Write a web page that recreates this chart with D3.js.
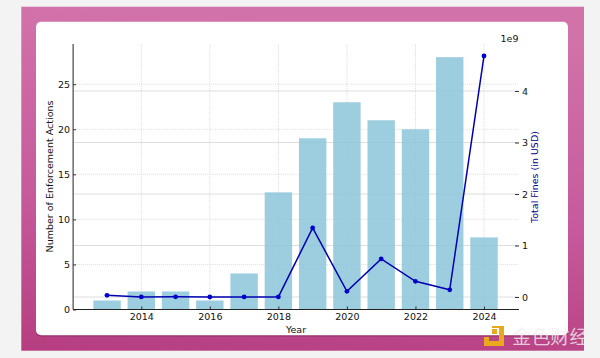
<!DOCTYPE html>
<html><head><meta charset="utf-8">
<script src="https://d3js.org/d3.v7.min.js"></script>
<style>html,body{margin:0;padding:0;background:#f3f3f3}svg{display:block}text{font-family:"DejaVu Sans",sans-serif}</style>
</head><body><svg id="c" width="600" height="358"></svg>
<script>
const years=[2013,2014,2015,2016,2017,2018,2019,2020,2021,2022,2023,2024];
const actions=[1,2,2,1,4,13,19,23,21,20,28,8];
const fines=[0.033e9,0.002e9,0.003e9,0e9,0.002e9,0.002e9,1.34e9,0.11e9,0.74e9,0.305e9,0.14e9,4.68e9];
const xTicks=[2014,2016,2018,2020,2022,2024];
const leftTicks=[0,5,10,15,20,25];
const rightTicks=[0,1e9,2e9,3e9,4e9];

const svg=d3.select("#c");
const defs=svg.append("defs");
const g=defs.append("linearGradient").attr("id","bg").attr("x1","0.1").attr("y1","0").attr("x2","0").attr("y2","1");
g.append("stop").attr("offset","0").attr("stop-color","#d272aa");
g.append("stop").attr("offset","0.55").attr("stop-color","#c65a9c");
g.append("stop").attr("offset","1").attr("stop-color","#b63e80");
svg.append("rect").attr("x",21.3).attr("y",6.7).attr("width",562.7).attr("height",344).attr("fill","url(#bg)");
svg.append("rect").attr("x",36).attr("y",22).attr("width",532).attr("height",314.5).attr("rx",5).attr("fill","#7e2a5a").attr("opacity",.65);
svg.append("rect").attr("x",36).attr("y",21.7).attr("width",532).attr("height",313.5).attr("rx",5).attr("fill","#fff");

const x=d3.scaleLinear().domain([2014,2024]).range([141.3,484]);
const yL=d3.scaleLinear().domain([0,25]).range([309.5,84.2]);
const yR=d3.scaleLinear().domain([0,4e9]).range([297,91]);
const plotL=x(2012.01),plotR=519,plotT=44,plotB=yL(0);
const bw=x(2014.8)-x(2014);

const grid=svg.append("g").attr("fill","none").attr("stroke","#d6d6d6").attr("stroke-width",.8);
xTicks.forEach(t=>grid.append("line").attr("x1",x(t)).attr("x2",x(t)).attr("y1",plotT).attr("y2",plotB).attr("stroke-dasharray","1.2 1"));
leftTicks.forEach(t=>grid.append("line").attr("x1",plotL).attr("x2",plotR).attr("y1",yL(t)).attr("y2",yL(t)).attr("stroke-dasharray","1 1"));
rightTicks.forEach(t=>grid.append("line").attr("x1",plotL).attr("x2",plotR).attr("y1",yR(t)).attr("y2",yR(t)));

svg.append("g").selectAll("rect").data(years).join("rect")
 .attr("x",d=>x(d)-bw/2).attr("width",bw)
 .attr("y",(d,i)=>yL(actions[i])).attr("height",(d,i)=>plotB-yL(actions[i]))
 .attr("fill","#8cc6d9").attr("fill-opacity",.85);

const line=d3.line().x((d,i)=>x(years[i])).y(d=>yR(d));
svg.append("path").attr("d",line(fines)).attr("fill","none").attr("stroke","#0000b0").attr("stroke-width",1.5);
svg.append("g").selectAll("circle").data(fines).join("circle")
 .attr("cx",(d,i)=>x(years[i])).attr("cy",d=>yR(d)).attr("r",2.4).attr("fill","#0000d0");

const ax=svg.append("g").attr("transform",`translate(0,${plotB})`).call(d3.axisBottom(x).tickValues(xTicks).tickFormat(d3.format("d")).tickSize(-3).tickPadding(3.5));
ax.select(".domain").attr("d",`M${plotL},0H${plotR}`).attr("stroke","#222");
const al=svg.append("g").attr("transform",`translate(${plotL},0)`).call(d3.axisLeft(yL).tickValues(leftTicks).tickSize(-3).tickPadding(3));
al.select(".domain").attr("d",`M0,${plotT}V${plotB}`).attr("stroke","#222");
const ar=svg.append("g").attr("transform",`translate(${plotR},0)`).call(d3.axisRight(yR).tickValues(rightTicks).tickFormat(d=>d/1e9).tickSize(-4).tickPadding(3));
ar.select(".domain").remove();
[ax,al,ar].forEach(a=>{a.selectAll("text").attr("font-size",9.5).attr("fill","#111").style("font-family",'"DejaVu Sans"');a.selectAll("line").attr("stroke","#333");});

svg.append("text").attr("x",296).attr("y",333).attr("text-anchor","middle").attr("font-size",9.5).attr("fill","#111").text("Year");
svg.append("text").attr("transform","translate(52.5,176.5) rotate(-90)").attr("text-anchor","middle").attr("font-size",9.5).attr("fill","#111").text("Number of Enforcement Actions");
svg.append("text").attr("transform","translate(538,177) rotate(-90)").attr("text-anchor","middle").attr("font-size",9.5).attr("fill","#00008f").text("Total Fines (in USD)");
svg.append("text").attr("x",500.5).attr("y",41.5).attr("font-size",9.5).attr("fill","#111").text("1e9");

// watermark
const wm=svg.append("g").attr("fill","#eaa81c");
wm.append("path").attr("d","M484,337h5v4h10v-13h-7v-2h12v20h-20z");
wm.append("rect").attr("x",492).attr("y",329).attr("width",5).attr("height",5);
wm.append("text").attr("x",512).attr("y",344).attr("font-size",19.2).attr("fill","#f4eef2").attr("fill-opacity",.8).style("font-family",'"Noto Sans CJK SC"').text("金色财经");
</script></body></html>
